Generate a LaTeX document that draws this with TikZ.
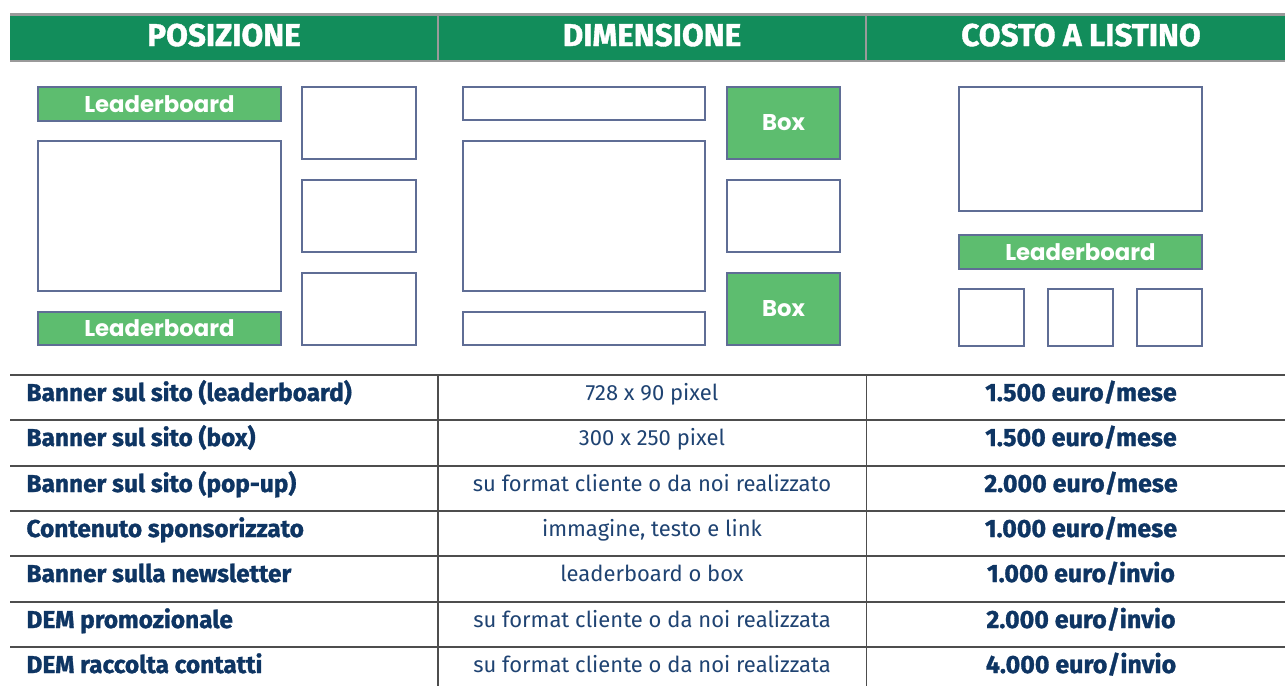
\documentclass[tikz,border=0pt]{standalone}
\usepackage{fontspec}
\setmainfont{Fira Sans}
\newfontfamily\heavyfont{Fira Sans}[BoldFeatures={FakeBold=1.2}]
\newfontfamily\boxfont{Poppins}
\usepackage{xcolor}
\definecolor{headgreen}{HTML}{128D5B}
\definecolor{adgreen}{HTML}{5DBD6F}
\definecolor{slate}{HTML}{5F6D95}
\definecolor{navy}{HTML}{0E3563}
\definecolor{midnavy}{HTML}{1F4372}
\definecolor{rulegray}{HTML}{4D4D4D}
\definecolor{headgray}{HTML}{9A9A9A}

\begin{document}
\begin{tikzpicture}[
	x=1pt, y=-1pt,
	head/.style={anchor=base, text=white, font=\heavyfont\fontsize{31.5}{35}\selectfont\bfseries},
	slot/.style={draw=slate, line width=2pt, anchor=north west, inner sep=0pt},
	adbox/.style={slot, fill=adgreen, text=white, font=\boxfont\fontsize{22.8}{26}\selectfont\bfseries},
	itemname/.style={anchor=base west, text=navy, font=\heavyfont\fontsize{24.4}{28}\selectfont\bfseries},
	itemsize/.style={anchor=base, text=midnavy, font=\fontsize{22}{26}\selectfont},
	itemprice/.style={anchor=base, text=navy, font=\heavyfont\fontsize{25}{29}\selectfont\bfseries},
	rule/.style={rulegray, line width=1.6pt}
	]
	
	\useasboundingbox (0,0) rectangle (1285,686);
	
	% Header band
	\fill[headgreen] (10,15) rectangle (1285,60);
	\draw[headgray, line width=2.5pt] (10,14.5) -- (1285,14.5);
	\draw[headgray, line width=2.5pt] (10,61) -- (1285,61);
	\draw[headgray, line width=2pt] (438,15) -- (438,60);
	\draw[headgray, line width=2pt] (866,15) -- (866,60);
	\node[head] (posizione) at (224,46) {POSIZIONE};
	\node[head] (dimensione) at (652,46) {DIMENSIONE};
	\node[head] (costo) at (1081,46) {COSTO A LISTINO};
	
	% Left layout
	\node[adbox, minimum width=243, minimum height=34] (lboardtop) at (37,86) {Leaderboard};
	\node[slot, minimum width=243, minimum height=150] (lmain) at (37,140) {};
	\node[adbox, minimum width=243, minimum height=33] (lboardbottom) at (37,311) {Leaderboard};
	\node[slot, minimum width=114, minimum height=72] (lside1) at (301,86) {};
	\node[slot, minimum width=114, minimum height=72] (lside2) at (301,179) {};
	\node[slot, minimum width=114, minimum height=72] (lside3) at (301,272) {};
	
	% Middle layout
	\node[slot, minimum width=242, minimum height=33] (mtop) at (462,86) {};
	\node[slot, minimum width=242, minimum height=150] (mmain) at (462,140) {};
	\node[slot, minimum width=242, minimum height=33] (mbottom) at (462,311) {};
	\node[adbox, minimum width=113, minimum height=72] (mboxtop) at (726,86) {Box};
	\node[slot, minimum width=113, minimum height=72] (mside) at (726,179) {};
	\node[adbox, minimum width=113, minimum height=72] (mboxbottom) at (726,272) {Box};
	
	% Right layout
	\node[slot, minimum width=243, minimum height=124] (rmain) at (958,86) {};
	\node[adbox, minimum width=243, minimum height=34] (rboard) at (958,234) {Leaderboard};
	\node[slot, minimum width=65, minimum height=57] (rsq1) at (958,288) {};
	\node[slot, minimum width=65, minimum height=57] (rsq2) at (1047,288) {};
	\node[slot, minimum width=65, minimum height=57] (rsq3) at (1136,288) {};
	
	% Table rules
	\draw[rule] (10,375) -- (1285,375);
	\draw[rule] (10,420) -- (1285,420);
	\draw[rule] (10,466) -- (1285,466);
	\draw[rule] (10,511) -- (1285,511);
	\draw[rule] (10,556) -- (1285,556);
	\draw[rule] (10,602) -- (1285,602);
	\draw[rule] (10,647) -- (1285,647);
	\draw[rule] (438,375) -- (438,686);
	\draw[rule] (866.5,375) -- (866.5,686);
	
	% Table rows
	\node[itemname] (name1) at (23,401) {Banner sul sito (leaderboard)};
	\node[itemsize] (size1) at (652,400) {728 x 90 pixel};
	\node[itemprice] (price1) at (1081,401) {1.500 euro/mese};
	
	\node[itemname] (name2) at (23,446) {Banner sul sito (box)};
	\node[itemsize] (size2) at (652,445) {300 x 250 pixel};
	\node[itemprice] (price2) at (1081,446) {1.500 euro/mese};
	
	\node[itemname] (name3) at (23,492) {Banner sul sito (pop-up)};
	\node[itemsize] (size3) at (652,491) {su format cliente o da noi realizzato};
	\node[itemprice] (price3) at (1081,492) {2.000 euro/mese};
	
	\node[itemname] (name4) at (23,537) {Contenuto sponsorizzato};
	\node[itemsize] (size4) at (652,536) {immagine, testo e link};
	\node[itemprice] (price4) at (1081,537) {1.000 euro/mese};
	
	\node[itemname] (name5) at (23,582) {Banner sulla newsletter};
	\node[itemsize] (size5) at (652,581) {leaderboard o box};
	\node[itemprice] (price5) at (1081,582) {1.000 euro/invio};
	
	\node[itemname] (name6) at (23,628) {DEM promozionale};
	\node[itemsize] (size6) at (652,627) {su format cliente o da noi realizzata};
	\node[itemprice] (price6) at (1081,628) {2.000 euro/invio};
	
	\node[itemname] (name7) at (23,673) {DEM raccolta contatti};
	\node[itemsize] (size7) at (652,672) {su format cliente o da noi realizzata};
	\node[itemprice] (price7) at (1081,673) {4.000 euro/invio};
	
\end{tikzpicture}
\end{document}
